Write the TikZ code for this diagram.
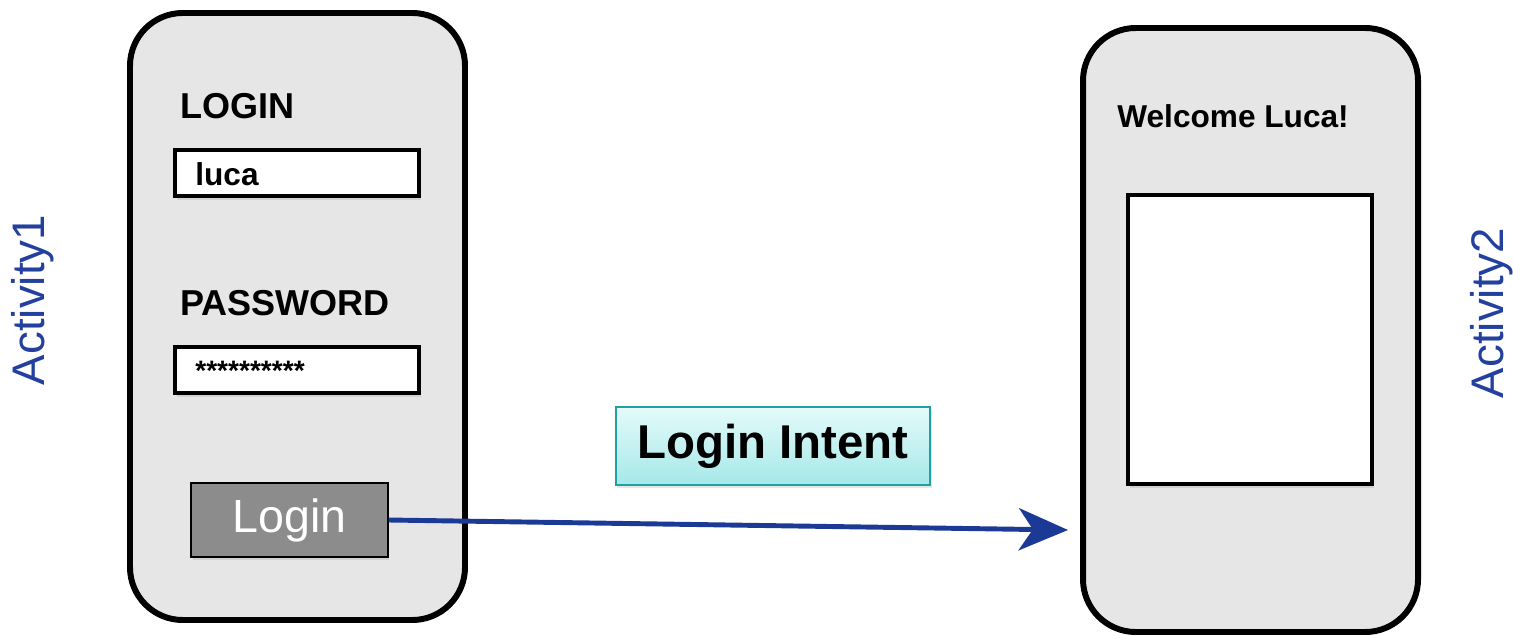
\documentclass[tikz,border=0pt]{standalone}
\usepackage{fontspec}
\setmainfont{Liberation Sans}
\usetikzlibrary{arrows.meta,shadows}
\definecolor{phonefill}{RGB}{230,230,230}
\definecolor{actblue}{RGB}{35,64,158}
\definecolor{arrowblue}{RGB}{27,58,150}
\definecolor{btngray}{RGB}{140,140,140}
\definecolor{teal2}{RGB}{32,160,160}
\definecolor{cyantop}{RGB}{228,250,250}
\definecolor{cyanbot}{RGB}{166,232,232}
\tikzset{
  phone/.style={draw=black, line width=3.4pt, fill=phonefill, rounded corners=30pt, inner sep=0pt},
  field/.style={draw=black, line width=2.8pt, fill=white, inner sep=0pt,
     drop shadow={shadow xshift=1pt, shadow yshift=-2pt, opacity=0.2}},
  lbl/.style={font=\fontsize{20.5}{24}\selectfont\bfseries, anchor=base west, inner sep=0pt},
  acttext/.style={font=\fontsize{26}{30}\selectfont, text=actblue, rotate=90, inner sep=0pt},
}
\begin{document}
\begin{tikzpicture}[x=0.02cm,y=-0.02cm]
\useasboundingbox (0,0) rectangle (1513,635);
% phones
\draw[phone] (130,13) rectangle (465,620);
\draw[phone] (1083,28) rectangle (1418,632);
% activity labels
\node[acttext] (act1) at (33,300) {Activity1};
\node[acttext] (act2) at (1492,313) {Activity2};
% login screen
\node[lbl] (logintitle) at (180,118) {LOGIN};
\draw[field] (175,150) rectangle (419,196);
\node[lbl, font=\fontsize{18}{22}\selectfont\bfseries] (user) at (195,185) {luca};
\node[lbl] (pwtitle) at (180,315) {PASSWORD};
\draw[field] (175,347) rectangle (419,393);
\node[lbl, font=\fontsize{16}{20}\selectfont\bfseries] (pw) at (195,380) {**********};
\node[draw=black, line width=1.2pt, fill=btngray, minimum width=197*0.567pt, minimum height=74*0.567pt,
      text=white, font=\fontsize{26.5}{30}\selectfont, inner sep=0pt,
      drop shadow={shadow xshift=1pt, shadow yshift=-2pt, opacity=0.2}] (btn) at (289.5,520) {\raisebox{-2pt}{Login}};
% welcome screen
\node[lbl, font=\fontsize{18}{22}\selectfont\bfseries] (welcome) at (1117,127) {Welcome Luca!};
\draw[field] (1128,195) rectangle (1372,484);
% intent
\node[draw=teal2, line width=1.2pt, top color=cyantop, bottom color=cyanbot,
      minimum width=316*0.567pt, minimum height=78*0.567pt, inner sep=0pt,
      font=\fontsize{27}{30}\selectfont\bfseries,
      drop shadow={shadow xshift=1pt, shadow yshift=-2pt, opacity=0.2}] (intent) at (773,446) {Login Intent};
\coordinate (tip) at (1068,530);
\draw[arrowblue, line width=2.8pt, -{Stealth[length=28pt, width=24pt, inset=8pt]}] (btn.east) -- (tip);
\end{tikzpicture}
\end{document}
